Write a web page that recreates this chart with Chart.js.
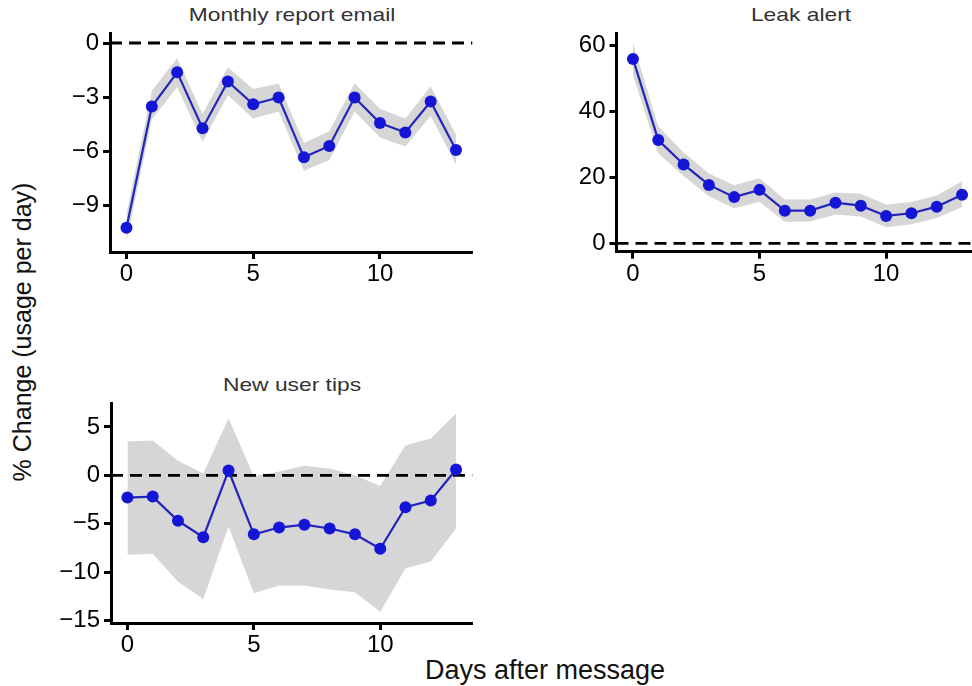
<!DOCTYPE html>
<html>
<head>
<meta charset="utf-8">
<script src="https://cdn.jsdelivr.net/npm/chart.js@4.4.1/dist/chart.umd.min.js"></script>
<style>
  html, body { margin: 0; padding: 0; background: #fff; }
  body { width: 972px; height: 686px; position: relative; overflow: hidden; font-family: "Liberation Sans", Arial, sans-serif; }
  canvas { position: absolute; }
  .ptitle { position: absolute; font-size: 19px; line-height: 19px; color: #333; white-space: nowrap; transform: translateX(-50%) scaleX(1.2); }
  .axtitle { position: absolute; font-size: 27px; line-height: 27px; color: #111; white-space: nowrap; }
</style>
</head>
<body>
<div class="ptitle" style="left:292px; top:5px;">Monthly report email</div>
<div class="ptitle" style="left:801px; top:5px;">Leak alert</div>
<div class="ptitle" style="left:292px; top:375px;">New user tips</div>
<div class="axtitle" style="left:545px; top:657px; transform: translateX(-50%);">Days after message</div>
<div class="axtitle" style="left:22px; top:332px; transform: translate(-50%,-50%) rotate(-90deg); font-size:25px; line-height:25px;">% Change (usage per day)</div>

<canvas id="c1"></canvas>
<canvas id="c2"></canvas>
<canvas id="c3"></canvas>

<script>
// Days after the message was sent
const days = [0, 1, 2, 3, 4, 5, 6, 7, 8, 9, 10, 11, 12, 13];
const xTicks = [0, 5, 10];

// Monthly report email
const monthlyEst   = [-10.26, -3.53, -1.63, -4.73, -2.14, -3.40, -3.03, -6.35, -5.72, -3.03, -4.45, -4.97, -3.25, -5.94];
const monthlyLower = [-11.02, -4.25, -2.45, -5.50, -2.90, -4.20, -3.80, -7.10, -6.50, -3.80, -5.25, -5.75, -4.05, -6.75];
const monthlyUpper = [ -9.50, -2.65, -0.85, -3.95, -1.35, -2.55, -2.25, -5.55, -4.90, -2.25, -3.65, -4.20, -2.40, -5.10];
const monthlyTicks = [0, -3, -6, -9];

// Leak alert
const leakEst   = [55.9, 31.3, 23.9, 17.7, 14.0, 16.2, 9.9, 9.9, 12.3, 11.4, 8.3, 9.1, 11.1, 14.7];
const leakLower = [51.0, 27.3, 20.4, 14.3, 10.6, 12.6, 6.5, 6.6, 8.7, 8.1, 4.9, 5.8, 7.7, 11.0];
const leakUpper = [60.8, 35.4, 27.5, 21.2, 17.6, 19.7, 13.3, 13.3, 15.4, 15.0, 11.8, 12.5, 14.5, 18.8];
const leakTicks = [0, 20, 40, 60];

// New user tips
const tipsEst   = [-2.3, -2.2, -4.7, -6.4, 0.5, -6.1, -5.4, -5.1, -5.5, -6.1, -7.6, -3.3, -2.6, 0.6];
const tipsLower = [-8.2, -8.1, -11.0, -12.8, -5.3, -12.2, -11.4, -11.4, -11.8, -12.1, -14.1, -9.6, -8.9, -5.5];
const tipsUpper = [3.5, 3.6, 1.5, 0.2, 5.9, -0.1, 0.4, 1.0, 0.7, 0.0, -1.1, 3.1, 3.8, 6.4];
const tipsTicks = [5, 0, -5, -10, -15];

const POINT_BLUE = '#1515d6';
const LINE_BLUE = '#2424bb';
const BAND_GREY = '#d6d6d6';
const TICK_FONT = { family: 'Liberation Sans', size: 24 };

function pairs(ys) { return days.map((d, i) => ({ x: d, y: ys[i] })); }

function makePanel(id, box, area, xRange, yRange, yTicks, est, lower, upper) {
  const cv = document.getElementById(id);
  cv.width = box.w; cv.height = box.h;
  cv.style.left = box.x + 'px'; cv.style.top = box.y + 'px';
  cv.style.width = box.w + 'px'; cv.style.height = box.h + 'px';

  const yAxisW = area.left - box.x;
  const xAxisH = (box.y + box.h) - area.bottom;
  const padTop = area.top - box.y;
  const padRight = (box.x + box.w) - area.right;

  const axisCommon = {
    border: { display: true, color: '#000', width: 3 },
    grid: { display: true, drawOnChartArea: false, drawTicks: true, tickLength: 7, tickWidth: 3, tickColor: '#000', color: '#000' },
  };

  new Chart(cv, {
    type: 'line',
    data: {
      datasets: [
        { label: 'estimate', data: pairs(est), borderColor: LINE_BLUE, borderWidth: 2.2,
          pointRadius: 6, pointBackgroundColor: POINT_BLUE, pointBorderWidth: 0, pointHoverRadius: 6,
          fill: false, tension: 0, order: 0, clip: false },
        { label: 'zero', data: [{ x: xRange[0], y: 0 }, { x: xRange[1], y: 0 }], borderColor: '#000',
          borderWidth: 2.8, borderDash: [12, 7], pointRadius: 0, fill: false, order: 1 },
        { label: 'upper', data: pairs(upper), borderWidth: 0, borderColor: 'rgba(0,0,0,0)', pointRadius: 0,
          backgroundColor: BAND_GREY, fill: '+1', tension: 0, order: 2 },
        { label: 'lower', data: pairs(lower), borderWidth: 0, borderColor: 'rgba(0,0,0,0)', pointRadius: 0,
          fill: false, tension: 0, order: 3 },
      ]
    },
    options: {
      responsive: false,
      animation: false,
      devicePixelRatio: 1,
      layout: { padding: { top: padTop, right: padRight, left: 0, bottom: 0 } },
      plugins: { legend: { display: false }, tooltip: { enabled: false }, title: { display: false } },
      events: [],
      scales: {
        x: Object.assign({}, axisCommon, {
          type: 'linear', min: xRange[0], max: xRange[1],
          afterBuildTicks: s => { s.ticks = xTicks.map(v => ({ value: v })); },
          afterFit: s => { s.height = xAxisH; },
          ticks: { color: '#000', padding: 1, maxRotation: 0, autoSkip: false, font: TICK_FONT },
        }),
        y: Object.assign({}, axisCommon, {
          type: 'linear', min: yRange[0], max: yRange[1],
          afterBuildTicks: s => { s.ticks = yTicks.map(v => ({ value: v })); },
          afterFit: s => { s.width = yAxisW; },
          ticks: { color: '#000', padding: 4, autoSkip: false, font: TICK_FONT,
                   callback: v => String(v).replace('-', '\u2212') },
        }),
      }
    }
  });
}

const xRange = [-0.65, 13.65];

makePanel('c1', { x: 40, y: 0, w: 450, h: 300 },
  { left: 110, right: 472.5, top: 33, bottom: 252 },
  xRange, [-11.61, 0.556], monthlyTicks, monthlyEst, monthlyLower, monthlyUpper);

makePanel('c2', { x: 546, y: 0, w: 440, h: 300 },
  { left: 616.5, right: 978.5, top: 33, bottom: 251.7 },
  xRange, [-2.55, 63.77], leakTicks, leakEst, leakLower, leakUpper);

makePanel('c3', { x: 40, y: 370, w: 450, h: 300 },
  { left: 111, right: 472.5, top: 403, bottom: 623 },
  xRange, [-15.27, 7.48], tipsTicks, tipsEst, tipsLower, tipsUpper);
</script>
</body>
</html>
